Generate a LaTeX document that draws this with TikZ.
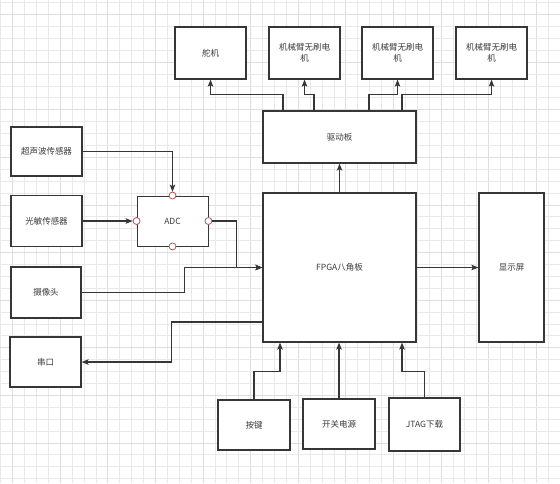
\documentclass[tikz,border=0pt]{standalone}
\usepackage{fontspec}
\setmainfont{Noto Sans CJK SC}
\usetikzlibrary{arrows.meta}
\definecolor{boxc}{HTML}{363636}
\definecolor{txtc}{HTML}{3A3A3A}
\definecolor{gridminor}{HTML}{E9E9E9}
\definecolor{gridmajor}{HTML}{DEDEDE}
\definecolor{portc}{HTML}{B85450}
\tikzset{
  box/.style={draw=boxc, line width=1.2pt, fill=white, inner sep=0pt,
    font=\fontsize{8.5}{11}\selectfont, text=txtc, align=center},
  arr/.style={draw=boxc, line width=1.1pt,
    -{Stealth[length=7pt,width=5.5pt,inset=1.5pt]}},
  port/.style={circle, draw=portc, fill=white, line width=0.8pt,
    minimum size=7pt, inner sep=0pt},
  gridln/.style={draw=gridminor, line width=0.9pt},
  gridmj/.style={draw=gridmajor, line width=0.9pt}
}
\begin{document}
\begin{tikzpicture}[x=1pt,y=-1pt]
\useasboundingbox[fill=white] (0,0) rectangle (560,483);
% grid
\foreach \i in {0,...,47}{
  \pgfmathtruncatemacro{\m}{mod(\i,4)}
  \ifnum\m=1 \draw[gridmj] ({0.8+\i*11.9},0) -- ({0.8+\i*11.9},483);
  \else \draw[gridln] ({0.8+\i*11.9},0) -- ({0.8+\i*11.9},483); \fi
}
\foreach \i in {0,...,40}{
  \pgfmathtruncatemacro{\m}{mod(\i,4)}
  \ifnum\m=1 \draw[gridmj] (0,{2.7+\i*11.9}) -- (560,{2.7+\i*11.9});
  \else \draw[gridln] (0,{2.7+\i*11.9}) -- (560,{2.7+\i*11.9}); \fi
}
% top row
\node[box, minimum width=71pt, minimum height=52pt] (servo) at (210.5,53) {舵机};
\node[box, minimum width=71pt, minimum height=52pt] (arm1) at (304.5,53) {机械臂无刷电\\机};
\node[box, minimum width=71pt, minimum height=52pt] (arm2) at (397.5,53) {机械臂无刷电\\机};
\node[box, minimum width=71pt, minimum height=52pt] (arm3) at (491.5,53) {机械臂无刷电\\机};
% middle
\node[box, minimum width=153pt, minimum height=52pt] (drv) at (339.5,137) {驱动板};
\node[box, minimum width=153pt, minimum height=149pt] (fpga) at (339.5,267.5) {FPGA八角板};
\node[box, minimum width=65pt, minimum height=149pt] (disp) at (511.5,267.5) {显示屏};
% left
\node[box, minimum width=71pt, minimum height=49pt] (ultra) at (46.5,151.5) {超声波传感器};
\node[box, minimum width=71pt, minimum height=51pt] (light) at (46.5,221) {光敏传感器};
\node[box, minimum width=71pt, minimum height=50pt, line width=0.9pt] (adc) at (172.5,221) {ADC};
\node[box, minimum width=70pt, minimum height=51pt] (cam) at (46,292.5) {摄像头};
\node[box, minimum width=71pt, minimum height=50pt] (serial) at (45.5,362) {串口};
% bottom
\node[box, minimum width=72pt, minimum height=50pt] (key) at (254,425) {按键};
\node[box, minimum width=72pt, minimum height=50pt] (pwr) at (339,424) {开关电源};
\node[box, minimum width=71pt, minimum height=53pt] (jtag) at (424.5,424.5) {JTAG下载};
% ADC ports
\node[port] (pt) at (adc.north) {};
\node[port] (pl) at (adc.west) {};
\node[port] (pr) at (adc.east) {};
\node[port] (pb) at (adc.south) {};
% connectors top
\draw[arr] ([xshift=-56.5pt]drv.north) |- ([yshift=-15pt]servo.south) -- (servo.south);
\draw[arr] ([xshift=-25.5pt]drv.north) |- ([yshift=-15pt]arm1.south) -- (arm1.south);
\draw[arr] ([xshift=29.5pt]drv.north) |- ([yshift=-15pt]arm2.south) -- (arm2.south);
\draw[arr] ([xshift=62.5pt]drv.north) |- ([yshift=-15pt]arm3.south) -- (arm3.south);
\draw[arr] (fpga.north) -- (drv.south);
\draw[arr] (fpga.east) -- (disp.west);
% left connectors
\draw[arr] (ultra.east) -| (pt.north);
\draw[arr] (light.east) -- (pl.west);
\draw[arr] (pr.east) -- ++(24.5,0) |- (fpga.west);
\draw[arr] (cam.east) -- ++(103,0) |- (fpga.west);
\draw[arr] ([yshift=-54.5pt]fpga.west) -- ++(-91,0) |- (serial.east);
% bottom connectors
\draw[arr] (key.north) |- ([xshift=-59.5pt,yshift=-29pt]fpga.south) -- ([xshift=-59.5pt]fpga.south);
\draw[arr] (pwr.north) -- (pwr.north |- fpga.south);
\draw[arr] (jtag.north) |- ([xshift=62.5pt,yshift=-29pt]fpga.south) -- ([xshift=62.5pt]fpga.south);
\end{tikzpicture}
\end{document}
